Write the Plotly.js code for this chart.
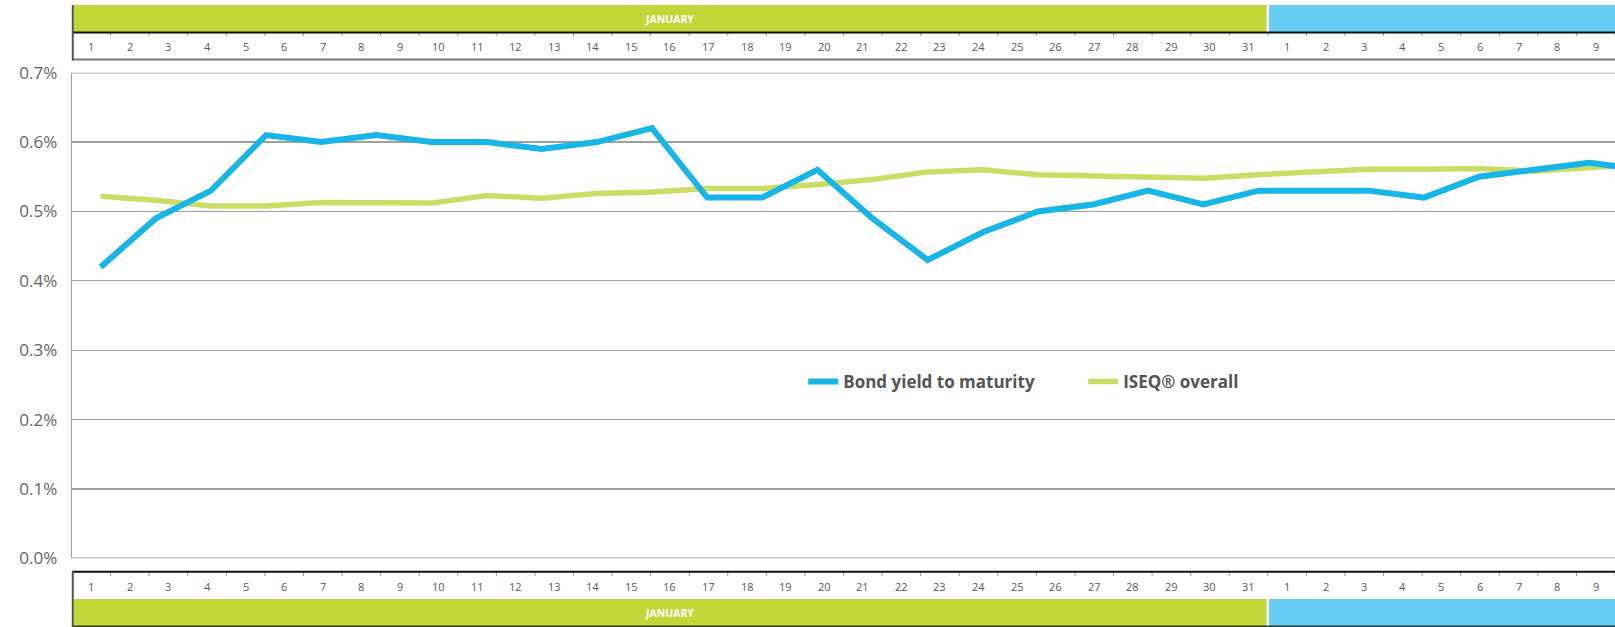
<!DOCTYPE html>
<html>
<head>
<meta charset="utf-8">
<script src="https://cdn.plot.ly/plotly-3.0.1.min.js"></script>
<style>
  html, body { margin: 0; padding: 0; background: #ffffff; }
  #chart { width: 1615px; height: 627px; }
</style>
</head>
<body>
<div id="chart"></div>
<script>
// ---- data ----
const tradingDay = [1,2,3,4,5,6,7,8,9,10,11,12,13,14,15,16,17,18,19,20,21,22,23,24,25,26,27,28,29];
const bondYield = [0.42,0.49,0.53,0.61,0.60,0.61,0.60,0.60,0.59,0.60,0.62,0.52,0.52,0.56,0.49,0.43,0.47,0.50,0.51,0.53,0.51,0.53,0.53,0.53,0.52,0.55,0.56,0.57,0.56];
const iseqOverall = [0.522,0.516,0.508,0.508,0.513,0.513,0.512,0.523,0.519,0.526,0.528,0.533,0.533,0.539,0.546,0.557,0.560,0.553,0.551,0.550,0.548,0.553,0.557,0.561,0.561,0.562,0.558,0.564,0.568];
const seriesNames = ['Bond yield to maturity', 'ISEQ® overall'];
const dayLabels = ['1','2','3','4','5','6','7','8','9','10','11','12','13','14','15','16','17','18','19','20','21','22','23','24','25','26','27','28','29','30','31','1','2','3','4','5','6','7','8','9','10'];
const months = ['JANUARY', 'FEBRUARY'];
const monthFirstCol = [1, 32];
const monthLastCol = [31, 59];
const yTicks = [0, 0.1, 0.2, 0.3, 0.4, 0.5, 0.6, 0.7];
const yTickLabels = ['0.0%', '0.1%', '0.2%', '0.3%', '0.4%', '0.5%', '0.6%', '0.7%'];

// ---- style ----
const BLUE = '#17b5e8';
const GREEN = '#cbdd64';
const BAND_GREEN = '#c2d838';
const BAND_BLUE = '#67cdf2';
const GRID = '#a0a0a0';
const TXT = '#5a5a5a';
const FONT = 'Open Sans, Noto Sans, sans-serif';

const H = 627;
const py = v => (H - v) / H; // pixel row -> paper y

const traces = [
  {
    x: tradingDay, y: iseqOverall, name: seriesNames[1], type: 'scatter', mode: 'lines',
    line: { color: GREEN, width: 5.5 }, legendrank: 2, hoverinfo: 'skip'
  },
  {
    x: tradingDay, y: bondYield, name: seriesNames[0], type: 'scatter', mode: 'lines',
    line: { color: BLUE, width: 6 }, legendrank: 1, hoverinfo: 'skip'
  }
];

const shapes = [];
const annotations = [];

// boundary grid lines (plotly drops gridlines at the range ends)
[yTicks[0], yTicks[yTicks.length - 1]].forEach(v => {
  shapes.push({ type: 'line', xref: 'paper', yref: 'y', x0: 0, x1: 1, y0: v, y1: v,
    line: { color: GRID, width: 1.5 }, layer: 'below' });
});

// month bands (top and bottom) and labels
const bandRows = [[py(5), py(32.5)], [py(599), py(626)]];
months.forEach((m, i) => {
  const x0 = monthFirstCol[i] - 0.5, x1 = monthLastCol[i] + 0.5;
  bandRows.forEach(r => {
    shapes.push({ type: 'rect', xref: 'x2', yref: 'paper', x0: x0, x1: x1, y0: r[1], y1: r[0],
      fillcolor: i === 0 ? BAND_GREEN : BAND_BLUE, line: { width: 0 }, layer: 'below' });
    annotations.push({ xref: 'x2', yref: 'paper', x: (x0 + x1) / 2, y: (r[0] + r[1]) / 2,
      text: m, showarrow: false, font: { family: FONT, size: 10.5, color: '#ffffff', weight: 'bold' },
      xanchor: 'center', yanchor: 'middle' });
  });
  if (i > 0) {
    // white separator between months
    [[py(4), py(60)], [py(571), py(627)]].forEach(r => {
      shapes.push({ type: 'line', xref: 'x2', yref: 'paper', x0: x0, x1: x0, y0: r[1], y1: r[0],
        line: { color: '#ffffff', width: 2.5 } });
    });
  }
});

// day number rows
dayLabels.forEach((d, i) => {
  [py(46.5), py(586.5)].forEach(yy => {
    annotations.push({ xref: 'x2', yref: 'paper', x: i + 1, y: yy, text: d, showarrow: false,
      font: { family: FONT, size: 11, color: TXT }, xanchor: 'center', yanchor: 'middle' });
  });
  // faint column separator ticks
  shapes.push({ type: 'line', xref: 'x2', yref: 'paper', x0: i + 0.5, x1: i + 0.5, y0: py(36), y1: py(33),
    line: { color: '#9a9a9a', width: 1 } });
  shapes.push({ type: 'line', xref: 'x2', yref: 'paper', x0: i + 0.5, x1: i + 0.5, y0: py(576), y1: py(572),
    line: { color: '#9a9a9a', width: 1 } });
});

// header / footer borders
shapes.push({ type: 'line', xref: 'paper', yref: 'paper', x0: 0, x1: 1, y0: py(32.5), y1: py(32.5), line: { color: '#111111', width: 2 } });
shapes.push({ type: 'line', xref: 'paper', yref: 'paper', x0: 0, x1: 1, y0: py(59.5), y1: py(59.5), line: { color: '#7a7a7a', width: 2 } });
shapes.push({ type: 'line', xref: 'paper', yref: 'paper', x0: 0.0005, x1: 0.0005, y0: py(60.5), y1: py(5), line: { color: '#555555', width: 2 } });
shapes.push({ type: 'line', xref: 'paper', yref: 'paper', x0: 0, x1: 1, y0: py(571.7), y1: py(571.7), line: { color: '#111111', width: 2 } });
shapes.push({ type: 'line', xref: 'paper', yref: 'paper', x0: 0, x1: 1, y0: py(626.2), y1: py(626.2), line: { color: '#333333', width: 1.5 } });
shapes.push({ type: 'line', xref: 'paper', yref: 'paper', x0: 0.0005, x1: 0.0005, y0: py(627), y1: py(571), line: { color: '#555555', width: 2 } });

const layout = {
  width: 1615, height: 627,
  margin: { l: 72, r: 0, t: 0, b: 0, pad: 0 },
  paper_bgcolor: '#ffffff', plot_bgcolor: '#ffffff',
  font: { family: FONT, color: TXT },
  showlegend: true,
  legend: {
    orientation: 'h', x: 0.4739, xanchor: 'left', y: py(382), yanchor: 'middle',
    font: { family: FONT, size: 17, color: '#555555', weight: 'bold' },
    bgcolor: 'rgba(0,0,0,0)', borderwidth: 0, entrywidth: 235, entrywidthmode: 'pixels',
    traceorder: 'normal'
  },
  xaxis: {
    range: [0.479, 28.468], visible: false, showgrid: false, zeroline: false, fixedrange: true
  },
  xaxis2: {
    overlaying: 'x', range: [0.5, 40.5], visible: false, showgrid: false, zeroline: false, fixedrange: true
  },
  yaxis: {
    domain: [py(558.3), py(72.7)], range: [0, 0.7],
    tickmode: 'array', tickvals: yTicks, ticktext: yTickLabels,
    showgrid: true, gridcolor: GRID, gridwidth: 1.3,
    showline: true, linecolor: GRID, linewidth: 1.3,
    zeroline: false,
    ticks: 'outside', ticklen: 10, tickcolor: 'rgba(0,0,0,0)',
    tickfont: { family: FONT, size: 17, color: '#666666' },
    fixedrange: true
  },
  shapes: shapes,
  annotations: annotations
};

Plotly.newPlot('chart', traces, layout, { displayModeBar: false, staticPlot: true });
</script>
</body>
</html>
